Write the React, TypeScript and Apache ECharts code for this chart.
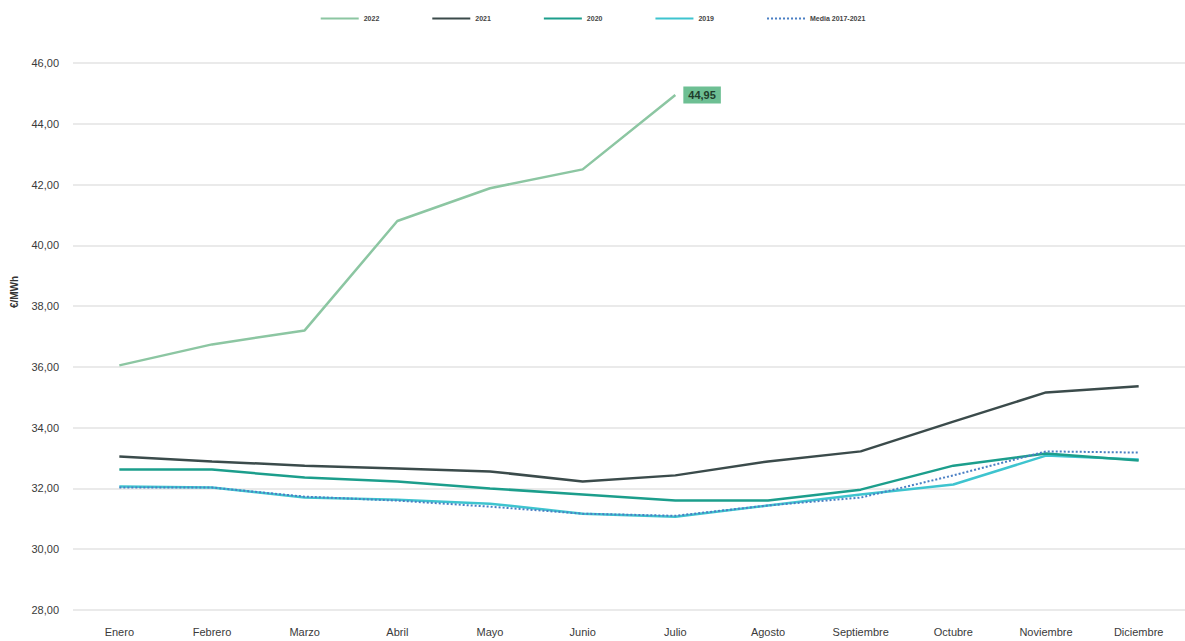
import React, { useEffect, useRef } from "react";
import * as echarts from "echarts";

const months = ["Enero", "Febrero", "Marzo", "Abril", "Mayo", "Junio", "Julio", "Agosto", "Septiembre", "Octubre", "Noviembre", "Diciembre"];
const yTicks = { min: 28, max: 46, interval: 2 };
const s2022 = [36.05, 36.74, 37.2, 40.8, 41.88, 42.5, 44.95];
const s2021 = [33.05, 32.89, 32.75, 32.66, 32.56, 32.23, 32.43, 32.89, 33.22, 34.2, 35.16, 35.36];
const s2020 = [32.62, 32.62, 32.36, 32.23, 32.0, 31.8, 31.6, 31.6, 31.96, 32.75, 33.15, 32.92];
const s2019 = [32.06, 32.03, 31.7, 31.63, 31.5, 31.17, 31.07, 31.44, 31.8, 32.13, 33.08, 32.95];
const sMedia = [32.03, 32.03, 31.73, 31.6, 31.4, 31.17, 31.1, 31.44, 31.7, 32.43, 33.22, 33.18];

const fmt = (v: number) => v.toFixed(2).replace(".", ",");

export default function App() {
  const ref = useRef<HTMLDivElement>(null);
  useEffect(() => {
    if (!ref.current) return;
    const chart = echarts.init(ref.current, null, { renderer: "svg" });
    const font = "Liberation Sans Narrow, Liberation Sans";
    chart.setOption({
      animation: false,
      textStyle: { fontFamily: font },
      legend: {
        top: 10,
        left: "center",
        itemWidth: 38,
        itemHeight: 6,
        itemGap: 52,
        itemStyle: { opacity: 0 },
        textStyle: { fontSize: 7, color: "#444", fontWeight: "bold", fontFamily: font },
        data: ["2022", "2021", "2020", "2019", "Media 2017-2021"],
      },
      grid: { left: 73, right: 0, top: 63, bottom: 31 },
      xAxis: {
        type: "category",
        data: months,
        boundaryGap: true,
        axisLine: { show: false },
        axisTick: { show: false },
        axisLabel: { color: "#3a3a3a", fontSize: 11, margin: 16, interval: 0 },
      },
      yAxis: {
        type: "value",
        min: yTicks.min,
        max: yTicks.max,
        interval: yTicks.interval,
        axisLine: { show: false },
        axisTick: { show: false },
        axisLabel: { color: "#3a3a3a", fontSize: 11, margin: 14, formatter: (v: number) => fmt(v) },
        splitLine: { lineStyle: { color: "#e3e3e3", width: 1.5 } },
      },
      graphic: [
        {
          type: "text",
          x: 14,
          y: 292,
          rotation: Math.PI / 2,
          style: { text: "€/MWh", fontSize: 10, fontWeight: "bold", fill: "#333", fontFamily: font, align: "center", verticalAlign: "middle" },
        },
      ],
      series: [
        {
          name: "2022",
          type: "line",
          data: s2022,
          symbol: "none",
          lineStyle: { color: "#8cc6a2", width: 2.5 },
          itemStyle: { color: "#8cc6a2" },
          z: 5,
          endLabel: {
            show: true,
            formatter: (p: any) => fmt(p.value),
            backgroundColor: "#6dbf93",
            color: "#1f3d2c",
            fontSize: 11,
            fontWeight: "bold",
            padding: [3, 5],
            distance: 8,
            fontFamily: font,
          },
        },
        { name: "2021", type: "line", data: s2021, symbol: "none", lineStyle: { color: "#3b4b4b", width: 2.5 }, itemStyle: { color: "#3b4b4b" }, z: 4 },
        { name: "2020", type: "line", data: s2020, symbol: "none", lineStyle: { color: "#1c9e8c", width: 2.5 }, itemStyle: { color: "#1c9e8c" }, z: 3 },
        { name: "2019", type: "line", data: s2019, symbol: "none", lineStyle: { color: "#3ec4cf", width: 2.5 }, itemStyle: { color: "#3ec4cf" }, z: 2 },
        { name: "Media 2017-2021", type: "line", data: sMedia, symbol: "none", lineStyle: { color: "#4a7fc4", width: 2, type: "dotted" }, itemStyle: { color: "#4a7fc4" }, z: 6 },
      ],
    });
    return () => chart.dispose();
  }, []);
  return <div ref={ref} style={{ position: "fixed", left: 0, top: 0, width: 1185, height: 641, background: "#fff" }} />;
}
